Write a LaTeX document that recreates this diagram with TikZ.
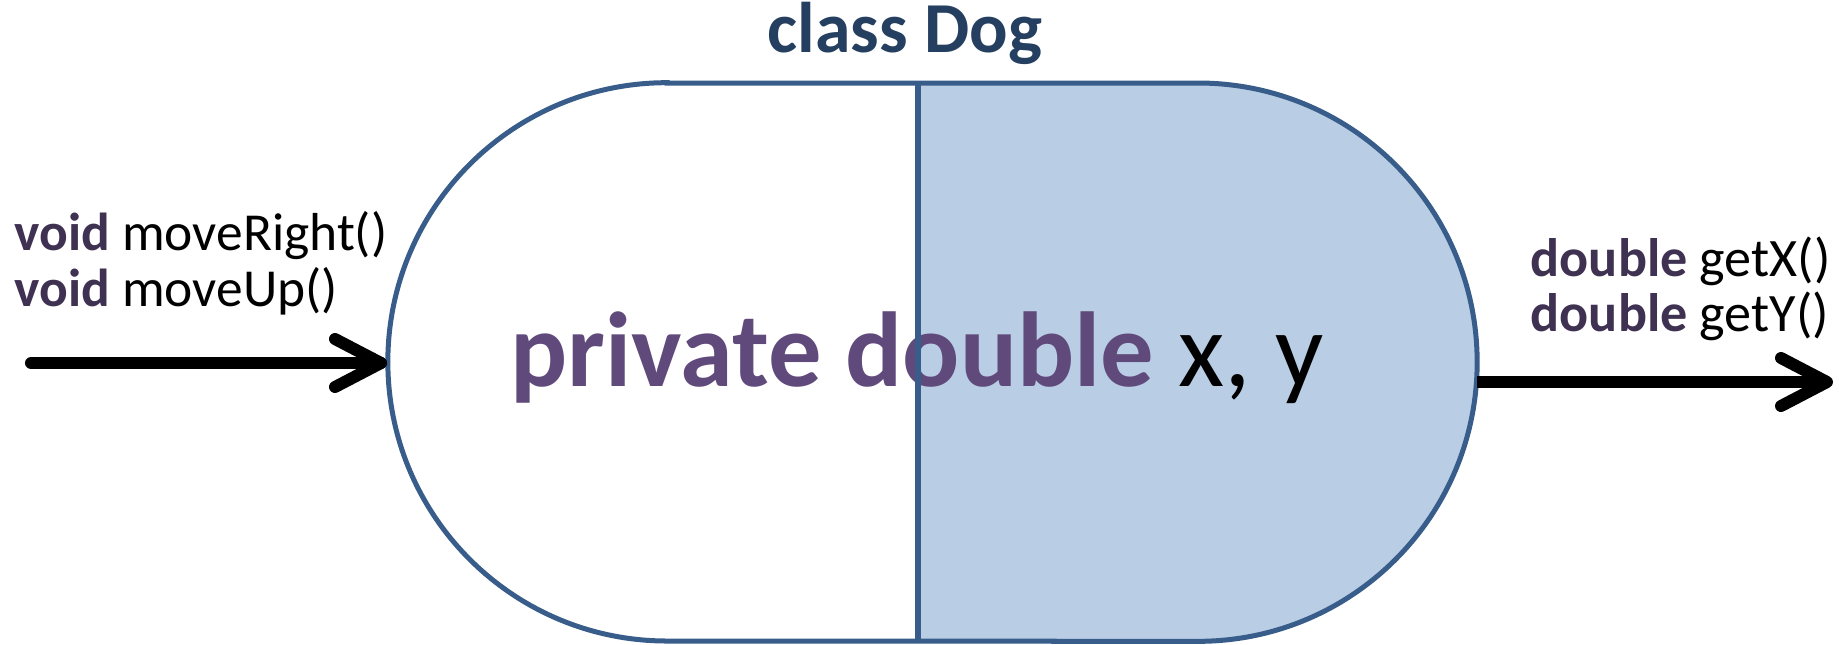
\documentclass[tikz,border=0pt]{standalone}
\usepackage{fontspec}
\setmainfont{Carlito}
\usetikzlibrary{calc}
\definecolor{outl}{HTML}{385D8A}
\definecolor{fillb}{HTML}{B9CDE5}
\definecolor{titlec}{HTML}{243F60}
\definecolor{kwc}{HTML}{3F3151}
\definecolor{midc}{HTML}{604A7B}
\tikzset{
  outline/.style={draw=outl, line width=0.05cm},
  bigarrow/.style={line width=0.12cm, line cap=round, line join=round, black},
  methodtxt/.style={inner sep=0pt, font=\fontsize{15.2}{17}\selectfont},
  gettxt/.style={inner sep=0pt, font=\fontsize{15.4}{17}\selectfont},
}
\begin{document}
\begin{tikzpicture}[x=0.01cm,y=0.01cm]
\useasboundingbox (0,0) rectangle (1839,644);
% right filled half
\fill[fillb] (918,561) -- (1198,561) arc[start angle=90,end angle=-90,radius=2.79cm] -- (918,3) -- cycle;
% stadium outline
\draw[outline] (667,561) -- (1198,561) arc[start angle=90,end angle=-90,radius=2.79cm]
  -- (667,3) arc[start angle=270,end angle=90,radius=2.79cm] -- cycle;
% texts
\node[anchor=base, inner sep=0pt, text=titlec, font=\fontsize{20.4}{22}\selectfont\bfseries] (title) at (905,592) {class Dog};
\node[anchor=base west, inner sep=0pt, font=\fontsize{30.3}{33}\selectfont] (field) at (510,258)
  {\textcolor{midc}{\bfseries private double} x, y};
% divider
\draw[draw=outl, line width=0.055cm] (918,561) -- (918,3);
\node[methodtxt, anchor=base west] (m1) at (14,394) {\textcolor{kwc}{\bfseries void} moveRight()};
\node[methodtxt, anchor=base west] (m2) at (14,338) {\textcolor{kwc}{\bfseries void} moveUp()};
\node[gettxt, anchor=base west] (g1) at (1530,368) {\textcolor{kwc}{\bfseries double} getX()};
\node[gettxt, anchor=base west] (g2) at (1530,313) {\textcolor{kwc}{\bfseries double} getY()};
% connectors
\coordinate (inS) at (31,281);
\coordinate (inT) at (381,281);
\coordinate (outS) at (1477,262);
\coordinate (outT) at (1827,262);
\draw[bigarrow] (inS) -- (inT);
\draw[bigarrow] ($(inT)+(-46,24)$) -- (inT) -- ($(inT)+(-46,-24)$);
\draw[bigarrow, line cap=butt] (outS) -- (outT);
\draw[bigarrow] ($(outT)+(-46,24)$) -- (outT) -- ($(outT)+(-46,-24)$);
\end{tikzpicture}
\end{document}
